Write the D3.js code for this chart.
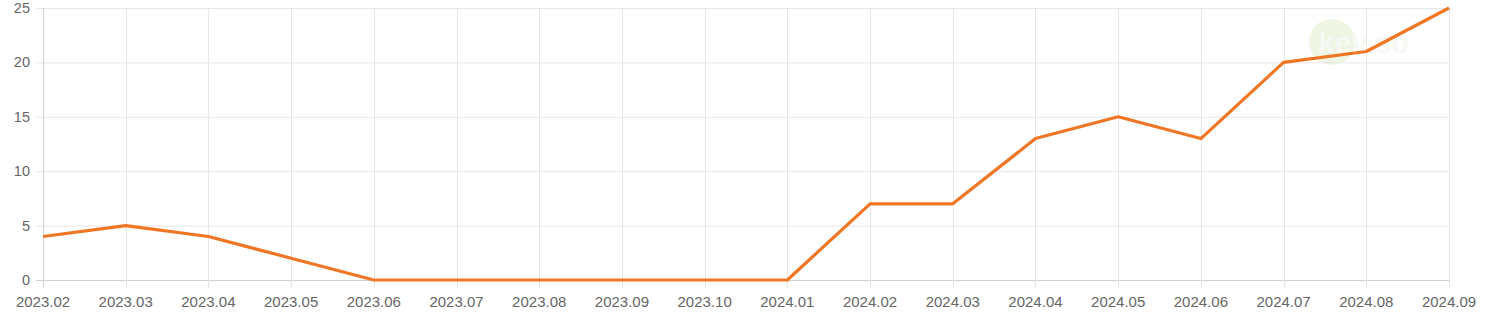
<!DOCTYPE html>
<html><head><meta charset="utf-8">
<script src="https://cdn.jsdelivr.net/npm/d3@7"></script>
<style>body{margin:0;background:#fff;font-family:"Liberation Sans",Arial,sans-serif;}</style>
</head><body><svg id="c" width="1500" height="325"></svg>
<script>
const categories = ["2023.02","2023.03","2023.04","2023.05","2023.06","2023.07","2023.08","2023.09","2023.10","2024.01","2024.02","2024.03","2024.04","2024.05","2024.06","2024.07","2024.08","2024.09"];
const values = [4,5,4,2,0,0,0,0,0,0,7,7,13,15,13,20,21,25];
const yTicks = [0,5,10,15,20,25];

(function(){
const svg = d3.select("#c");
const mL = 43, mR = 1449, mT = 8, mB = 280;
const x = d3.scalePoint().domain(categories).range([mL, mR]);
const y = d3.scaleLinear().domain([0,25]).range([mB, mT]);

// watermark
const wm = svg.append("g").attr("opacity",0.35);
wm.append("circle").attr("cx",1332).attr("cy",42).attr("r",23).attr("fill","#cfe6b0");
wm.append("text").attr("x",1318).attr("y",53).attr("font-size",30).attr("font-weight","bold").attr("fill","#e6ecdf").text("kev.so");

// horizontal grid
svg.append("g").selectAll("line").data(yTicks).join("line")
  .attr("x1", mL-7).attr("x2", mR).attr("y1", d=>y(d)+0.5).attr("y2", d=>y(d)+0.5)
  .attr("stroke", d=> d===0 ? "#d0d0d0" : "#e6e6e6").attr("stroke-width",1);
// vertical grid
svg.append("g").selectAll("line").data(categories).join("line")
  .attr("x1", d=>Math.round(x(d))+0.5).attr("x2", d=>Math.round(x(d))+0.5)
  .attr("y1", mT).attr("y2", mB+8)
  .attr("stroke", (d,i)=> i===0 ? "#d0d0d0" : "#e6e6e6").attr("stroke-width",1);

// y labels
svg.append("g").selectAll("text").data(yTicks).join("text")
  .attr("x", mL-13).attr("y", d=>y(d)).attr("dy","0.35em")
  .attr("text-anchor","end").attr("font-size",14.5).attr("fill","#666").text(d=>d);
// x labels
svg.append("g").selectAll("text").data(categories).join("text")
  .attr("x", d=>x(d)).attr("y", mB+27)
  .attr("text-anchor","middle").attr("font-size",15).attr("fill","#666").text(d=>d);

// line
const line = d3.line().x((d,i)=>x(categories[i])).y(d=>y(d));
svg.append("path").datum(values).attr("d", line)
  .attr("fill","none").attr("stroke","#f07624").attr("stroke-width",3.2)
  .attr("stroke-linejoin","round");
})();
</script></body></html>
